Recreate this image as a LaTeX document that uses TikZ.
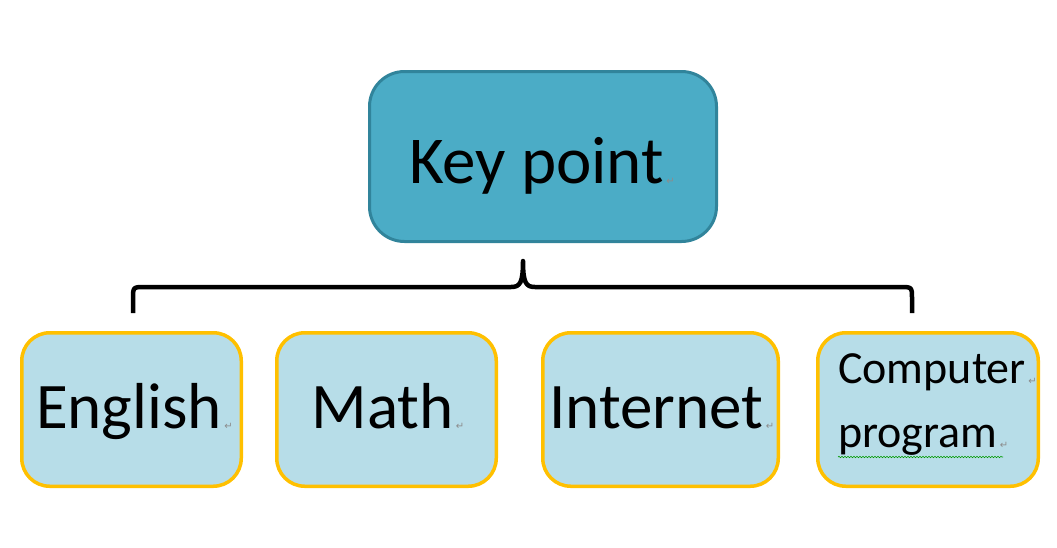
\documentclass[tikz,border=0pt]{standalone}
\usepackage{fontspec}
\setmainfont{Carlito}
\newfontfamily\markfont{DejaVu Sans}
\usetikzlibrary{decorations.pathmorphing}
\definecolor{keyfill}{HTML}{4BACC6}
\definecolor{keyline}{HTML}{31849B}
\definecolor{subfill}{HTML}{B7DDE8}
\definecolor{subline}{HTML}{FFC000}
\definecolor{markgray}{HTML}{8C8C8C}
\begin{document}
\begin{tikzpicture}[x=1pt,y=-1pt,
  keybox/.style={draw=keyline, fill=keyfill, line width=3pt, rounded corners=35pt,
    minimum width=347pt, minimum height=170pt, inner sep=0pt},
  subbox/.style={draw=subline, fill=subfill, line width=3.5pt, rounded corners=28pt,
    minimum height=153.5pt, inner sep=0pt},
  bigtext/.style={inner sep=0pt, font=\fontsize{67}{80}\selectfont},
  midtext/.style={inner sep=0pt, font=\fontsize{65}{76}\selectfont},
  smalltext/.style={inner sep=0pt, font=\fontsize{46}{54}\selectfont},
  retmark/.style={inner sep=0pt, anchor=base west, text=markgray,
    font=\markfont\fontsize{10}{10}\selectfont, xshift=2pt, yshift=-1pt},
  bracket/.style={line width=4.5pt, black, line join=round}]
\useasboundingbox (0,0) rectangle (1057,547);

% boxes
\node[keybox] (key) at (543,156.5) {};
\node[subbox, minimum width=219.5pt] (eng) at (131.5,409.5) {};
\node[subbox, minimum width=219.5pt] (mat) at (386.5,409.5) {};
\node[subbox, minimum width=235.5pt] (int) at (660.5,409.5) {};
\node[subbox, minimum width=220.5pt] (cmp) at (928,409.5) {};

% texts
\node[bigtext, anchor=base] (keyt) at (536.5,183) {Key point};
\node[retmark] at (keyt.base east) {↵};
\node[midtext, anchor=base] (engt) at (129,428) {English};
\node[retmark] at (engt.base east) {↵};
\node[midtext, anchor=base] (matt) at (382.5,428) {Math};
\node[retmark] at (matt.base east) {↵};
\node[midtext, anchor=base] (intt) at (656.5,428) {Internet};
\node[retmark] at (intt.base east) {↵};
\node[smalltext, anchor=base west] (cmpt1) at (838,383) {Computer};
\node[retmark] at (cmpt1.base east) {↵};
\node[smalltext, anchor=base west] (cmpt2) at (838,447) {program};
\node[retmark] at (cmpt2.base east) {↵};
\draw[green!60!black, line width=0.6pt, decorate,
  decoration={snake, amplitude=0.7pt, segment length=3pt}]
  (838,457) -- (1003,457);

% bracket
\coordinate (bl) at (133,313);
\coordinate (br) at (912,313);
\coordinate (tip) at (523,261);
\draw[bracket] (bl) -- (133,299) .. controls (133,287) .. (145,287) -- (511,287)
  .. controls (520,287) and (523,283) .. (tip)
  .. controls (523,283) and (526,287) .. (535,287) -- (900,287)
  .. controls (912,287) .. (912,299) -- (br);
\end{tikzpicture}
\end{document}
